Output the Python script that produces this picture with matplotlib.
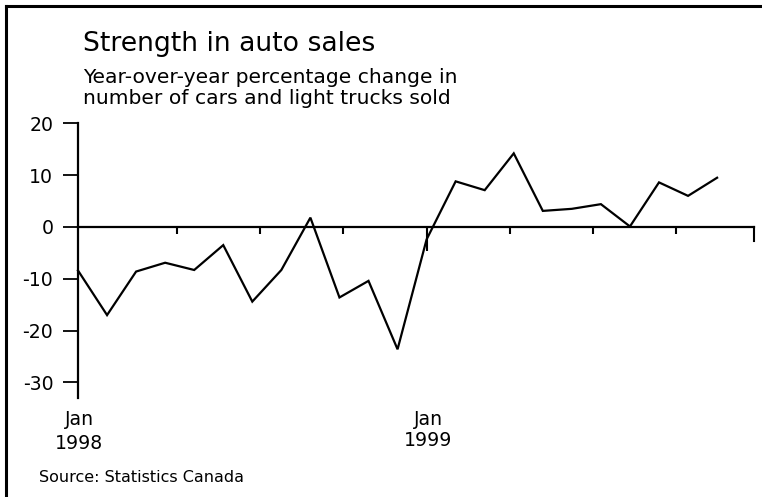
import matplotlib
matplotlib.use("Agg")
import matplotlib.pyplot as plt
import matplotlib.transforms as mtransforms
from matplotlib.lines import Line2D

# ---- data ----
months = list(range(23))  # months since Jan 1998 (Jan 1998 .. Nov 1999)
pct_change = [-8.4, -17.0, -8.6, -6.9, -8.3, -3.5, -14.4, -8.3, 1.8, -13.6, -10.4, -23.6,
              -2.4, 8.8, 7.1, 14.2, 3.1, 3.5, 4.4, 0.1, 8.6, 6.0, 9.5]
y_ticks = [-30, -20, -10, 0, 10, 20]
y_tick_labels = ["-30", "-20", "-10", "0", "10", "20"]
x_major_ticks = [12]
x_minor_ticks = [3.4, 6.27, 9.13, 14.87, 17.73, 20.6]
x_label_pos = [0, 12]
x_label_month = ["Jan", "Jan"]
x_label_year = ["1998", "1999"]
title = "Strength in auto sales"
subtitle_lines = ["Year-over-year percentage change in", "number of cars and light trucks sold"]
source = "Source: Statistics Canada"

W, H = 762, 497
fig = plt.figure(figsize=(W / 100, H / 100), dpi=100)
fig.patch.set_facecolor("white")

ax_left, ax_right, ax_top, ax_bottom = 78, 754, 123.3, 397.5
ax = fig.add_axes([ax_left / W, 1 - ax_bottom / H, (ax_right - ax_left) / W, (ax_bottom - ax_top) / H])
ax.set_xlim(0, 23.27)
ax.set_ylim(-32.9, 20)
ax.patch.set_alpha(0)

ax.plot(months, pct_change, color="black", lw=1.6, solid_joinstyle="miter", clip_on=False)

for s in ["top", "right"]:
    ax.spines[s].set_visible(False)
ax.spines["left"].set_linewidth(1.6)
ax.spines["bottom"].set_position(("data", 0))
ax.spines["bottom"].set_linewidth(1.6)

ax.set_yticks(y_ticks)
ax.set_yticklabels(y_tick_labels)
ax.tick_params(axis="y", direction="out", length=10.8, width=1.3, pad=7, labelsize=13.6)

ax.set_xticks(x_major_ticks)
ax.set_xticks(x_minor_ticks, minor=True)
ax.set_xticklabels([])
ax.tick_params(axis="x", which="major", direction="out", length=17.5, width=1.5)
ax.tick_params(axis="x", which="minor", direction="out", length=5, width=1.5)

# end tick at the right end of the horizontal axis
trans_end = mtransforms.blended_transform_factory(ax.transAxes, ax.transData)
ax.plot([1, 1], [0, -2.7], color="black", lw=1.5, transform=trans_end, clip_on=False)

# x labels
trans_lbl = mtransforms.blended_transform_factory(ax.transData, fig.transFigure)
for xp, m, yr, yb in zip(x_label_pos, x_label_month, x_label_year, [449, 446]):
    ax.text(xp + 0.05, 1 - 425 / H, m, transform=trans_lbl, ha="center", va="baseline", fontsize=13.6)
    ax.text(xp + 0.05, 1 - yb / H, yr, transform=trans_lbl, ha="center", va="baseline", fontsize=13.6)

# titles
fig.text(83 / W, 1 - 51 / H, title, fontsize=19.2, va="baseline", ha="left")
fig.text(83 / W, 1 - 82.7 / H, subtitle_lines[0], fontsize=14.6, va="baseline", ha="left")
fig.text(83 / W, 1 - 104 / H, subtitle_lines[1], fontsize=14.6, va="baseline", ha="left")
fig.text(39 / W, 1 - 481.5 / H, source, fontsize=11.5, va="baseline", ha="left")

# frame (top and left)
fig.add_artist(Line2D([6 / W, 6 / W], [0, 1 - 5.5 / H], color="black", lw=2.2,
                      transform=fig.transFigure, solid_capstyle="projecting"))
fig.add_artist(Line2D([6 / W, 1], [1 - 5.5 / H, 1 - 5.5 / H], color="black", lw=2.2,
                      transform=fig.transFigure, solid_capstyle="projecting"))

fig.savefig("out.png", dpi=100)
